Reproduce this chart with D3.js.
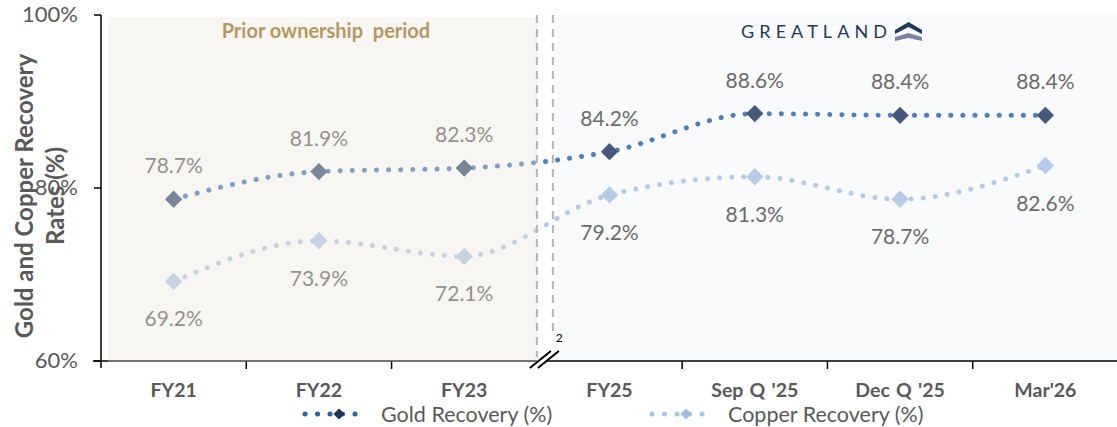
<!DOCTYPE html>
<html>
<head>
<meta charset="utf-8">
<script src="https://cdn.jsdelivr.net/npm/d3@7"></script>
<style>
	html, body { margin: 0; padding: 0; background: #fff; }
	#chart { width: 1117px; height: 427px; }
</style>
</head>
<body>
<div id="chart"></div>
<script>
//data
const categories = ['FY21', 'FY22', 'FY23', 'FY25', "Sep Q '25", "Dec Q '25", "Mar'26"];
const goldRecovery = [78.7, 81.9, 82.3, 84.2, 88.6, 88.4, 88.4];
const copperRecovery = [69.2, 73.9, 72.1, 79.2, 81.3, 78.7, 82.6];
const yTicks = [60, 80, 100];
const seriesNames = ['Gold Recovery (%)', 'Copper Recovery (%)'];

render();

function render() {
	let props = {
		width: 1117,
		height: 427,
		margin: { top: 15, right: -1, bottom: 66, left: 101 },
		breakIndex: 3,
		goldLine: '#4a7fc0',
		goldMarker: '#44597a',
		copperLine: '#b4cbe8',
		copperMarker: '#b4cce9',
		labelColor: '#6b6b6b',
		axisText: '#595959',
		font: 'Lato, "Open Sans", sans-serif',
	};

	createVisualization(d3.select('#chart'), props);
}

function createVisualization(container, props) {
	let { width, height, margin, breakIndex, font, labelColor, axisText } = props;

	const plotBottom = height - margin.bottom;

	const x = d3
		.scaleBand()
		.domain(categories)
		.range([margin.left, width - margin.right])
		.padding(0);

	const y = d3.scaleLinear().domain([60, 100]).range([plotBottom, margin.top]);

	const cx = (d) => x(d) + x.bandwidth() / 2;

	let svg = container
		.append('svg')
		.attr('width', width)
		.attr('height', height)
		.style('font-family', font);

	const breakX = x(categories[breakIndex]);

	//right panel (behind)
	svg.append('rect')
		.attr('x', breakX + 16)
		.attr('y', margin.top)
		.attr('width', width - breakX - 16)
		.attr('height', plotBottom - margin.top)
		.attr('fill', '#f9fafc');

	//axes
	svg.append('line')
		.attr('x1', margin.left - 8)
		.attr('x2', width)
		.attr('y1', plotBottom)
		.attr('y2', plotBottom)
		.attr('stroke', '#000')
		.attr('stroke-width', 1.5);

	svg.append('line')
		.attr('x1', margin.left)
		.attr('x2', margin.left)
		.attr('y1', margin.top)
		.attr('y2', plotBottom + 7)
		.attr('stroke', '#000')
		.attr('stroke-width', 1.5);

	svg.selectAll('.y-tick')
		.data(yTicks)
		.enter()
		.append('line')
		.attr('class', 'y-tick')
		.attr('x1', margin.left - 7)
		.attr('x2', margin.left)
		.attr('y1', (d) => y(d))
		.attr('y2', (d) => y(d))
		.attr('stroke', '#000')
		.attr('stroke-width', 1.5);

	svg.selectAll('.y-label')
		.data(yTicks)
		.enter()
		.append('text')
		.attr('class', 'y-label')
		.attr('x', margin.left - 23)
		.attr('y', (d) => y(d) + 7)
		.attr('text-anchor', 'end')
		.style('font-size', '22px')
		.style('fill', axisText)
		.text((d) => d + '%');

	svg.selectAll('.x-tick')
		.data(categories.filter((d, i) => i > 0 && i !== breakIndex))
		.enter()
		.append('line')
		.attr('class', 'x-tick')
		.attr('x1', (d) => x(d))
		.attr('x2', (d) => x(d))
		.attr('y1', plotBottom)
		.attr('y2', plotBottom + 8)
		.attr('stroke', '#000')
		.attr('stroke-width', 1.5);

	let xAxis = svg
		.append('g')
		.attr('transform', translation(0, plotBottom))
		.call(d3.axisBottom(x).tickSize(0).tickPadding(22));
	xAxis.select('.domain').remove();
	xAxis
		.selectAll('text')
		.style('font-family', font)
		.style('font-size', '19.5px')
		.style('font-weight', 'bold')
		.style('word-spacing', '1.5px')
		.style('fill', axisText);

	//lines
	const line = (vals) =>
		d3
			.line()
			.x((d, i) => cx(categories[i]))
			.y((d) => y(d))
			.curve(d3.curveMonotoneX)(vals);

	const series = [
		{ values: goldRecovery, line: props.goldLine, marker: props.goldMarker, dy: -26 },
		{ values: copperRecovery, line: props.copperLine, marker: props.copperMarker, dy: 45 },
	];

	series.forEach((s) => {
		svg.append('path')
			.attr('d', line(s.values))
			.attr('fill', 'none')
			.attr('stroke', s.line)
			.attr('stroke-width', 5)
			.attr('stroke-linecap', 'round')
			.attr('stroke-dasharray', '0.1 12');

		svg.selectAll(null)
			.data(s.values)
			.enter()
			.append('path')
			.attr('d', d3.symbol(d3.symbolSquare, 150)())
			.attr('transform', (d, i) => translation(cx(categories[i]), y(d)) + ' rotate(45)')
			.attr('fill', s.marker);

		svg.selectAll(null)
			.data(s.values)
			.enter()
			.append('text')
			.attr('x', (d, i) => cx(categories[i]))
			.attr('y', (d) => y(d) + s.dy)
			.attr('text-anchor', 'middle')
			.style('font-size', '21px')
			.style('fill', labelColor)
			.text((d) => d.toFixed(1) + '%');
	});

	//prior ownership overlay
	svg.append('rect')
		.attr('x', margin.left + 7)
		.attr('y', margin.top + 2)
		.attr('width', breakX - margin.left - 7)
		.attr('height', plotBottom - margin.top - 1)
		.attr('fill', '#e8e4da')
		.attr('fill-opacity', 0.32);

	svg.append('text')
		.attr('x', (margin.left + breakX) / 2 + 7)
		.attr('y', 38)
		.attr('text-anchor', 'middle')
		.style('font-size', '20px')
		.style('font-weight', 'bold')
		.style('fill', '#b8965e')
		.style('white-space', 'pre')
		.text('Prior ownership  period');

	//dashed separators
	[breakX, breakX + 16].forEach((dx, i) => {
		svg.append('line')
			.attr('x1', dx)
			.attr('x2', dx)
			.attr('y1', margin.top)
			.attr('y2', i === 0 ? plotBottom - 4 : plotBottom - 28)
			.attr('stroke', '#b5b5b5')
			.attr('stroke-width', 2)
			.attr('stroke-dasharray', '8 6');
	});

	//axis break
	svg.append('rect')
		.attr('x', breakX)
		.attr('y', plotBottom - 3)
		.attr('width', 9)
		.attr('height', 6)
		.attr('fill', '#fff');
	[0, 8].forEach((o) => {
		svg.append('line')
			.attr('x1', breakX - 7 + o)
			.attr('y1', plotBottom + 7)
			.attr('x2', breakX + 14 + o)
			.attr('y2', plotBottom - 10)
			.attr('stroke', '#000')
			.attr('stroke-width', 2);
	});
	svg.append('text')
		.attr('x', breakX + 19)
		.attr('y', plotBottom - 19)
		.style('font-size', '12px')
		.style('fill', '#000')
		.text('2');

	//logo
	let logo = svg.append('g').attr('transform', translation(741, 38));
	logo.append('text')
		.attr('x', 0)
		.attr('y', 0)
		.style('font-size', '18px')
		.style('letter-spacing', '5.1px')
		.style('fill', '#1e3a5f')
		.text('GREATLAND');
	logo.append('path')
		.attr('d', 'M154,-8 L167.5,-16 L181,-8 L181,-4 L167.5,-11 L154,-4 Z')
		.attr('fill', '#1e3a5f');
	logo.append('path')
		.attr('d', 'M154,-1 L167.5,-5 L181,-1 L181,3 L167.5,0 L154,3 Z')
		.attr('fill', '#7d80a0');

	//y title
	let yTitle = svg
		.append('text')
		.attr('transform', translation(0, 196) + ' rotate(-90)')
		.attr('text-anchor', 'middle')
		.style('font-size', '24px')
		.style('font-weight', 'bold')
		.style('fill', axisText);
	yTitle.append('tspan').attr('x', 0).attr('y', 33).text('Gold and Copper Recovery');
	yTitle.append('tspan').attr('x', 0).attr('y', 64).text('Rates (%)');

	//legend
	const legendItems = [
		{ name: seriesNames[0], x: 305, line: '#2e64b0', marker: '#1d3458' },
		{ name: seriesNames[1], x: 652, line: '#a8c4e8', marker: '#9dbde6' },
	];
	legendItems.forEach((l) => {
		let g = svg.append('g').attr('transform', translation(l.x, 414));
		g.append('line')
			.attr('x1', 0)
			.attr('x2', 62)
			.attr('stroke', l.line)
			.attr('stroke-width', 5)
			.attr('stroke-linecap', 'round')
			.attr('stroke-dasharray', '0.1 12.4');
		g.append('path')
			.attr('d', d3.symbol(d3.symbolSquare, 60)())
			.attr('transform', translation(34, 0) + ' rotate(45)')
			.attr('fill', l.marker);
		g.append('text')
			.attr('x', 76)
			.attr('y', 8)
			.style('font-size', '21.5px')
			.style('fill', axisText)
			.text(l.name);
	});
}

//utils
function translation(x, y) {
	return `translate(${x}, ${y})`;
}
</script>
</body>
</html>
